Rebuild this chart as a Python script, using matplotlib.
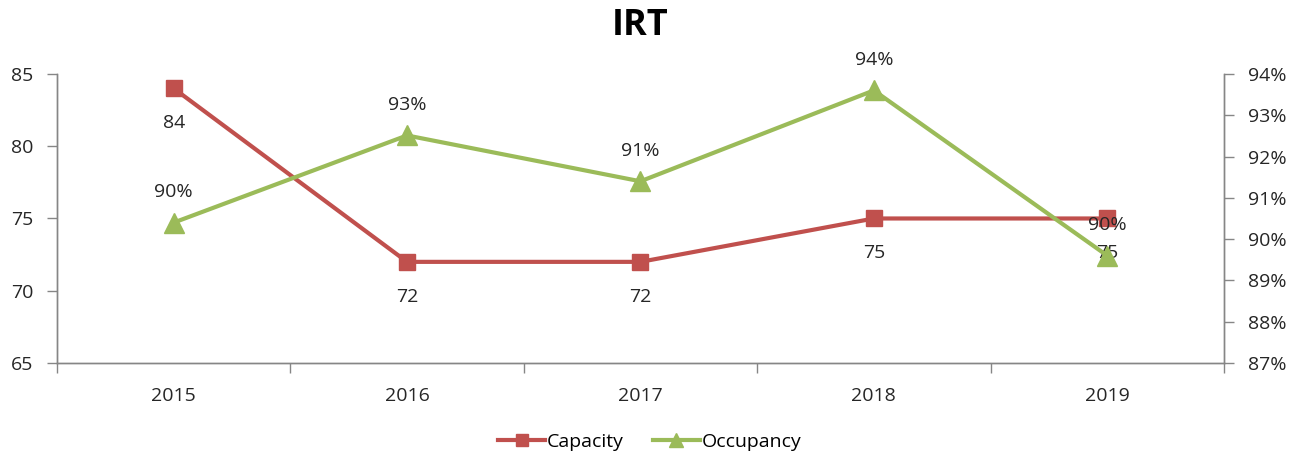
import matplotlib
matplotlib.use("Agg")
import matplotlib.pyplot as plt
from matplotlib.ticker import FixedLocator, PercentFormatter

plt.rcParams['font.family'] = ['Open Sans', 'DejaVu Sans']

years = ['2015', '2016', '2017', '2018', '2019']
capacity = [84, 72, 72, 75, 75]
occupancy = [90.4, 92.51, 91.4, 93.6, 89.6]   # percent

RED = '#C0504D'
GREEN = '#9BBB59'
AXC = '#868686'
TXT = '#262626'
FS = 14

fig = plt.figure(figsize=(13, 4.59), dpi=100)
ax = fig.add_axes([0.0438, 0.209, 0.8977, 0.630])
ax2 = ax.twinx()

x = range(len(years))
ax.plot(x, capacity, color=RED, lw=3, marker='s', ms=12, label='Capacity', zorder=3)
ax2.plot(x, occupancy, color=GREEN, lw=3, marker='^', ms=14, label='Occupancy', zorder=3)

for i, v in enumerate(capacity):
    ax.annotate(f'{v}', (i, v), xytext=(0, -25), textcoords='offset points',
                ha='center', va='center', fontsize=FS, color=TXT)
for i, v in enumerate(occupancy):
    ax2.annotate(f'{v:.0f}%', (i, v), xytext=(0, 22), textcoords='offset points',
                 ha='center', va='center', fontsize=FS, color=TXT)

ax.set_xlim(-0.5, len(years) - 0.5)
ax.set_ylim(65, 85)
ax.set_yticks([65, 70, 75, 80, 85])
ax2.set_ylim(87, 94)
ax2.set_yticks(range(87, 95))
ax2.yaxis.set_major_formatter(PercentFormatter(decimals=0))

ax.set_xticks(list(x))
ax.set_xticklabels(years)
ax.xaxis.set_minor_locator(FixedLocator([i - 0.5 for i in range(len(years) + 1)]))
ax.tick_params(axis='x', which='major', length=0, pad=17, labelsize=FS, labelcolor=TXT)
ax.tick_params(axis='x', which='minor', length=7, direction='out', color=AXC, width=1)
ax.tick_params(axis='y', length=7, color=AXC, width=1, labelsize=FS, labelcolor=TXT, pad=10)
ax2.tick_params(axis='y', length=7, color=AXC, width=1, labelsize=FS, labelcolor=TXT, pad=10)

for a in (ax, ax2):
    a.spines['top'].set_visible(False)
    for s in ('left', 'right', 'bottom'):
        a.spines[s].set_color(AXC)
        a.spines[s].set_linewidth(1)

fig.suptitle('IRT', fontsize=26, fontweight='bold', y=0.983, x=0.4925)

h1, l1 = ax.get_legend_handles_labels()
h2, l2 = ax2.get_legend_handles_labels()
fig.legend(h1 + h2, l1 + l2, loc='center', bbox_to_anchor=(0.5, 0.037), ncol=2,
           frameon=False, fontsize=FS, handlelength=2.4, handletextpad=0.1,
           columnspacing=1.5, markerscale=0.75)

fig.savefig('out.png', dpi=100)
